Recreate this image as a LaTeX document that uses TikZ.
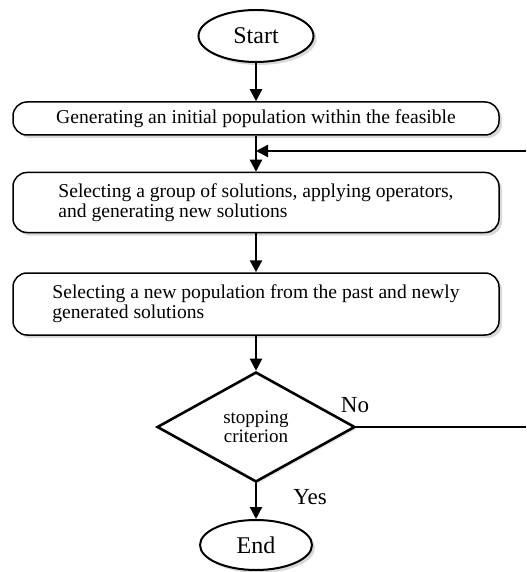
\documentclass[tikz,border=0pt]{standalone}
\usepackage{fontspec}
\setmainfont{Liberation Serif}
\usetikzlibrary{shapes.geometric, arrows.meta, shadows}

\begin{document}
\begin{tikzpicture}[x=0.5pt, y=-0.5pt,
  term/.style={ellipse, draw, line width=1pt, fill=white,
    font=\fontsize{12}{14}\selectfont,
    drop shadow={opacity=0.3, shadow xshift=1.5pt, shadow yshift=-1.5pt}},
  proc/.style={rectangle, rounded corners=7pt, draw, line width=0.75pt, fill=white,
    minimum width=243pt, align=left, font=\fontsize{9.8}{10}\selectfont,
    drop shadow={opacity=0.3, shadow xshift=1.5pt, shadow yshift=-1.5pt}},
  decision/.style={diamond, draw, line width=1.3pt, fill=white, inner sep=0pt,
    minimum width=99pt, minimum height=55pt, align=center,
    font=\fontsize{9.5}{9.5}\selectfont,
    drop shadow={opacity=0.2, shadow xshift=1pt, shadow yshift=-1pt}},
  lbl/.style={font=\fontsize{11.5}{13}\selectfont},
  link/.style={line width=1.15pt, -{Triangle[length=6pt, width=6pt]}}]

\useasboundingbox (0,0) rectangle (526,572);

% Noeuds
\node[term, minimum width=57.5pt, minimum height=26pt] (start) at (256,36) {Start};
\node[proc, minimum height=16.5pt, align=center] (init) at (256,118.5)
  {Generating an initial population within the feasible};
\node[proc, minimum height=30pt] (select) at (256,202.5)
  {Selecting a group of solutions, applying operators,\\and generating new solutions};
\node[proc, minimum height=31pt] (newpop) at (256,304)
  {Selecting a new population from the past and newly\\generated solutions};
\node[decision] (stop) at (256,427) {stopping\\criterion};
\node[term, minimum width=56pt, minimum height=25pt] (end) at (256,545) {End};

% Points de jonction
\coordinate (fbjoin) at (256,151);
\coordinate (fbin) at (526,151);
\coordinate (noout) at (526,427);

% Liaisons
\draw[link] (start) -- (init);
\draw[link] (init) -- (select);
\draw[link] (fbin) -- (fbjoin);
\draw[link] (select) -- (newpop);
\draw[link] (newpop) -- (stop);
\draw[link] (stop) -- (end);
\draw[line width=1.15pt] (stop.east) -- (noout);

% Etiquettes
\node[lbl] (no) at (355,405) {No};
\node[lbl] (yes) at (310,497) {Yes};

\end{tikzpicture}
\end{document}
